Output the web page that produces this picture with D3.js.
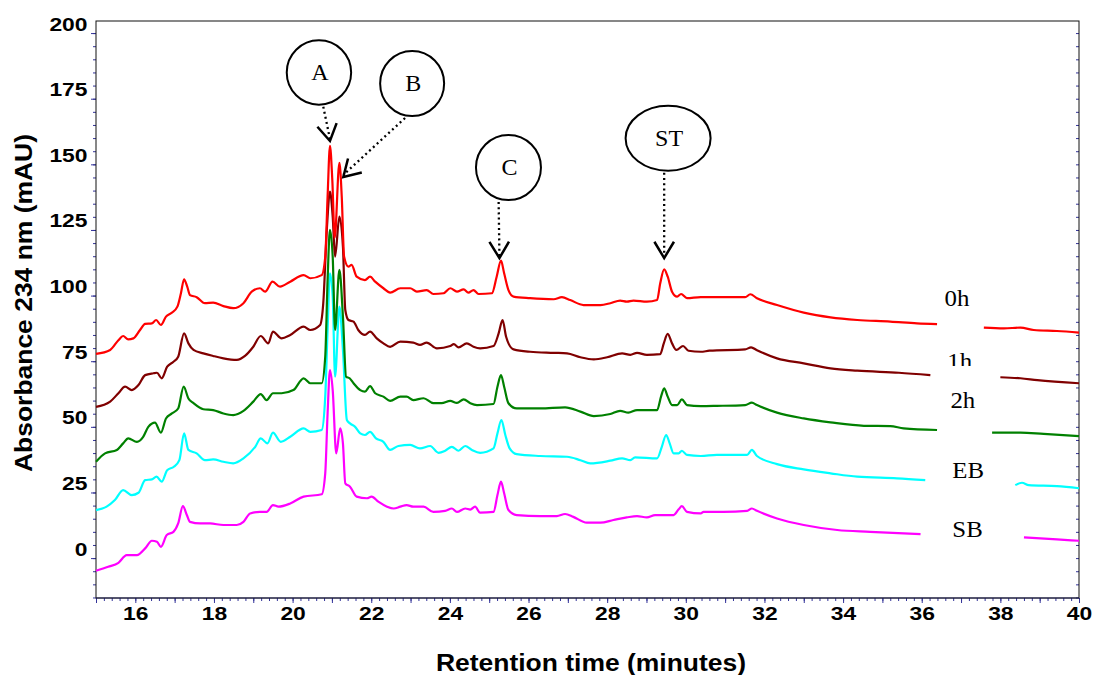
<!DOCTYPE html>
<html>
<head>
<meta charset="utf-8">
<script src="https://cdn.jsdelivr.net/npm/d3@7"></script>
<style>
body { margin: 0; background: #fff; }
svg { display: block; }
</style>
</head>
<body>
<svg id="chart" width="1093" height="675"></svg>
<script>
// Chromatogram traces, [retention time (min), absorbance (mAU)], null = break in the trace
const trace0h = [[15.0,77.8],[15.36,79.3],[15.57,83.0],[15.69,84.6],[15.82,83.3],[15.95,83.7],[16.12,86.9],[16.25,89.2],[16.42,89.4],[16.53,90.7],[16.65,88.8],[16.78,92.0],[16.93,93.5],[17.07,95.8],[17.16,100.9],[17.24,106.2],[17.32,103.4],[17.39,100.2],[17.56,99.4],[17.77,97.1],[17.98,97.3],[18.24,96.0],[18.49,95.2],[18.75,97.1],[18.96,101.5],[19.17,102.8],[19.30,101.5],[19.49,105.3],[19.68,103.4],[19.94,105.3],[20.28,107.8],[20.45,106.6],[20.74,107.8],[20.83,114.8],[20.89,137.7],[20.95,157.0],[21.01,144.0],[21.07,122.0],[21.19,150.6],[21.25,137.7],[21.31,114.8],[21.42,111.0],[21.50,111.7],[21.63,107.2],[21.84,105.9],[21.97,107.2],[22.10,105.3],[22.31,102.8],[22.48,101.1],[22.74,102.8],[22.99,102.8],[23.16,101.5],[23.41,102.1],[23.58,100.6],[23.84,100.9],[24.01,102.8],[24.18,101.5],[24.35,102.4],[24.47,101.1],[24.60,102.1],[24.73,100.6],[25.07,100.9],[25.19,107.2],[25.30,113.3],[25.38,108.5],[25.49,102.1],[25.62,99.6],[26.04,99.0],[26.64,98.6],[26.85,99.4],[27.06,98.3],[27.40,96.4],[27.83,96.4],[28.08,97.1],[28.33,98.1],[28.50,97.7],[28.67,98.1],[29.01,97.7],[29.27,98.3],[29.35,104.7],[29.45,110.0],[29.54,107.2],[29.65,101.5],[29.78,99.6],[29.88,100.6],[30.03,99.0],[30.38,99.4],[30.79,99.4],[31.51,99.4],[31.64,100.5],[31.81,99.0],[32.32,96.4],[33.0,93.5],[33.68,91.7],[34.36,90.7],[35.20,90.1],[35.88,89.4],[36.39,89.1],[36.4,null],[37.58,87.8],[38.09,87.5],[38.51,87.8],[38.85,86.9],[39.44,86.5],[40.0,85.9]]

const trace1h = [[15.0,57.6],[15.36,59.6],[15.57,62.8],[15.74,65.3],[15.91,64.0],[16.08,65.9],[16.25,69.7],[16.46,70.4],[16.55,70.6],[16.67,68.5],[16.81,72.9],[16.97,74.8],[17.09,76.7],[17.24,85.6],[17.35,81.8],[17.48,79.3],[17.73,78.0],[17.98,77.0],[18.24,76.1],[18.58,75.5],[18.79,77.0],[19.0,80.5],[19.19,84.6],[19.38,81.8],[19.50,86.3],[19.72,83.7],[19.94,85.0],[20.28,88.2],[20.45,86.9],[20.70,88.8],[20.78,97.1],[20.87,125.0],[20.95,139.6],[21.02,130.1],[21.08,114.8],[21.19,130.1],[21.28,118.6],[21.34,94.5],[21.42,90.7],[21.55,90.1],[21.67,86.9],[21.84,85.0],[21.97,86.3],[22.14,83.7],[22.31,81.8],[22.48,80.5],[22.74,82.5],[23.07,82.1],[23.24,81.2],[23.41,82.1],[23.67,79.9],[24.01,80.8],[24.10,81.5],[24.22,80.3],[24.43,81.8],[24.60,80.5],[24.77,79.9],[25.11,80.8],[25.24,85.6],[25.34,90.7],[25.43,84.3],[25.62,79.5],[26.04,78.6],[26.64,78.2],[26.98,78.0],[27.32,76.5],[27.66,75.7],[28.0,76.5],[28.38,78.0],[28.59,77.4],[28.76,78.2],[29.01,77.4],[29.35,77.7],[29.44,81.8],[29.54,85.4],[29.65,81.8],[29.76,79.3],[29.93,80.8],[30.07,79.0],[30.38,78.6],[30.6,79.0],[31.51,79.5],[31.66,80.3],[31.81,79.2],[32.32,76.1],[33.0,74.2],[33.68,72.3],[34.36,71.4],[35.42,70.6],[36.22,69.7],[36.25,null],[38.0,68.9],[38.51,68.5],[38.94,67.8],[40.0,66.6]]

const trace2h = [[15.0,36.7],[15.23,39.9],[15.53,41.2],[15.69,43.7],[15.82,45.6],[16.04,44.3],[16.20,46.2],[16.33,50.0],[16.50,51.6],[16.65,47.8],[16.78,53.2],[16.93,55.1],[17.09,57.0],[17.23,65.3],[17.35,60.8],[17.48,59.0],[17.73,56.7],[17.98,56.4],[18.24,55.1],[18.49,54.5],[18.75,56.1],[19.0,59.6],[19.19,62.5],[19.34,60.2],[19.50,62.8],[19.72,62.8],[20.02,64.0],[20.28,68.5],[20.45,66.6],[20.74,66.6],[20.83,76.7],[20.89,105.9],[20.95,125.0],[21.02,114.8],[21.08,86.9],[21.19,109.8],[21.28,92.0],[21.36,69.1],[21.45,68.5],[21.55,66.6],[21.72,64.0],[21.84,63.4],[21.97,65.5],[22.10,62.8],[22.31,61.5],[22.48,59.9],[22.74,61.5],[22.90,61.5],[23.07,60.2],[23.33,60.9],[23.58,59.0],[23.79,59.0],[24.01,59.9],[24.18,59.1],[24.35,60.5],[24.52,59.0],[24.69,58.3],[25.11,58.7],[25.21,65.3],[25.30,69.7],[25.38,65.3],[25.49,59.0],[25.70,57.0],[26.30,57.0],[26.93,57.4],[27.32,55.8],[27.66,54.1],[28.08,54.9],[28.33,56.1],[28.54,55.4],[28.76,56.4],[29.27,56.4],[29.37,61.5],[29.45,64.7],[29.54,61.5],[29.65,58.3],[29.78,58.3],[29.90,60.5],[30.03,58.3],[30.38,57.9],[30.79,58.0],[31.51,58.3],[31.68,59.2],[31.81,58.3],[32.32,55.4],[33.0,53.2],[33.68,51.7],[34.53,50.4],[35.20,50.3],[35.54,49.4],[36.39,48.8],[36.4,null],[37.79,47.8],[38.51,47.8],[39.10,47.3],[40.0,46.5]]

const traceEB = [[15.0,18.3],[15.27,19.6],[15.48,22.1],[15.69,25.9],[15.91,24.0],[16.08,24.9],[16.25,29.7],[16.42,30.0],[16.54,31.0],[16.67,29.1],[16.81,33.5],[16.98,34.8],[17.12,37.3],[17.24,47.5],[17.35,41.2],[17.56,39.9],[17.77,37.3],[17.98,37.6],[18.24,36.7],[18.49,36.1],[18.75,38.0],[19.05,42.4],[19.19,45.6],[19.36,43.7],[19.50,47.8],[19.70,44.3],[19.94,46.2],[20.28,49.4],[20.45,48.1],[20.74,48.8],[20.83,61.5],[20.89,86.9],[20.95,108.5],[21.02,99.6],[21.08,69.1],[21.19,95.8],[21.28,79.3],[21.38,52.6],[21.46,51.3],[21.59,50.0],[21.72,47.5],[21.84,46.9],[21.97,48.1],[22.12,45.6],[22.31,44.3],[22.48,41.2],[22.69,42.7],[22.99,43.1],[23.24,41.8],[23.50,42.7],[23.71,40.1],[23.88,40.9],[24.05,42.4],[24.22,40.9],[24.39,42.7],[24.56,41.2],[24.77,40.1],[25.11,41.8],[25.21,47.5],[25.31,52.6],[25.41,46.9],[25.52,41.8],[25.70,39.6],[26.30,38.9],[26.98,38.6],[27.32,37.3],[27.57,36.1],[28.08,37.1],[28.38,38.0],[28.59,37.3],[28.71,38.4],[29.27,38.0],[29.39,42.4],[29.50,46.9],[29.59,43.7],[29.69,39.9],[29.82,39.9],[29.90,40.9],[30.03,39.3],[30.38,38.9],[30.79,39.3],[31.56,39.3],[31.68,41.2],[31.81,38.9],[32.32,35.8],[33.0,33.8],[33.68,32.3],[34.36,31.0],[35.37,30.4],[36.09,29.7],[36.1,null],[38.38,27.8],[38.55,28.7],[38.72,27.8],[39.44,27.4],[40.0,26.6]]

const traceSB = [[15.0,-4.8],[15.31,-3.3],[15.57,-1.8],[15.78,1.1],[16.04,1.1],[16.25,3.7],[16.42,6.6],[16.55,6.2],[16.65,4.3],[16.80,8.8],[16.97,10.0],[17.09,13.2],[17.21,19.8],[17.31,16.4],[17.39,13.8],[17.65,13.2],[17.90,13.2],[18.24,12.6],[18.58,12.6],[18.75,13.8],[18.92,17.0],[19.17,17.6],[19.34,17.6],[19.50,20.2],[19.64,19.6],[19.94,20.8],[20.28,23.4],[20.74,24.3],[20.83,32.3],[20.89,55.1],[20.95,71.6],[21.02,64.0],[21.11,39.9],[21.21,49.4],[21.28,43.7],[21.34,28.5],[21.46,27.2],[21.63,23.4],[21.89,22.8],[22.01,23.4],[22.18,21.5],[22.40,19.6],[22.57,18.9],[22.74,19.6],[22.90,20.2],[23.07,19.6],[23.33,19.6],[23.58,17.6],[23.88,18.0],[24.05,18.9],[24.18,17.6],[24.39,18.9],[24.52,18.5],[24.64,19.6],[24.77,17.3],[25.11,17.6],[25.21,24.0],[25.30,29.1],[25.38,24.7],[25.49,18.3],[25.70,16.4],[26.30,16.0],[26.72,16.0],[26.93,16.8],[27.14,15.7],[27.48,13.5],[27.83,13.5],[28.16,14.5],[28.50,15.5],[28.76,16.0],[29.01,15.5],[29.22,16.4],[29.69,16.4],[29.82,18.6],[29.90,19.8],[30.03,17.6],[30.38,17.0],[30.45,17.6],[30.96,17.6],[31.56,18.0],[31.68,18.9],[31.81,18.0],[32.32,15.1],[33.0,12.6],[33.85,10.7],[34.69,10.0],[35.97,9.1],[36.0,null],[38.6,7.9],[39.44,7.1],[40.0,6.6]]

const seriesNames = ["0h", "1h", "2h", "EB", "SB"]
const seriesData = [trace0h, trace1h, trace2h, traceEB, traceSB]
const seriesColors = ["#ff0000", "#800000", "#008000", "#00ffff", "#ff00ff"]

const yTicks = [0, 25, 50, 75, 100, 125, 150, 175, 200]
const xTicks = [16, 18, 20, 22, 24, 26, 28, 30, 32, 34, 36, 38, 40]

// peak call-outs
const peakLabels = ["A", "B", "C", "ST"]

const margin = {top: 21, right: 14, bottom: 77, left: 96}
const width = 1093 - margin.left - margin.right
const height = 675 - margin.top - margin.bottom

const svg = d3.select("#chart")
const g = svg.append("g").attr("transform", "translate(" + margin.left + "," + margin.top + ")")

const x = d3.scaleLinear().domain([15, 40]).range([0, width])
const y = d3.scaleLinear().domain([-15.2, 204.6]).range([height, 0])

const tickColor = "#333399"
const sans = "'Liberation Sans', Arial, sans-serif"
const serif = "'Liberation Serif', 'Times New Roman', serif"

// stretch text horizontally, the original picture is a bit wider than tall
function stretch(sel, k) {
    sel.each(function() {
        const w = this.getComputedTextLength()
        if (w > 0) d3.select(this).attr("textLength", w * k).attr("lengthAdjust", "spacingAndGlyphs")
    })
}

// ---- axes ----
const yMinor = g.append("g").call(d3.axisLeft(y).tickValues(d3.range(-15, 201, 5)).tickSize(3).tickFormat(""))
const yMajor = g.append("g").call(d3.axisLeft(y).tickValues(yTicks).tickSize(5))
const yRight = g.append("g").attr("transform", "translate(" + width + ",0)")
    .call(d3.axisLeft(y).tickValues(d3.range(-15, 201, 5)).tickSize(3).tickFormat(""))

const xMinor = g.append("g").attr("transform", "translate(0," + height + ")")
    .call(d3.axisBottom(x).tickValues(d3.range(0, 126).map(i => 15 + i / 5)).tickSize(3).tickFormat(""))
const xMajor = g.append("g").attr("transform", "translate(0," + height + ")")
    .call(d3.axisBottom(x).tickValues(d3.range(15, 41)).tickSize(5)
        .tickFormat(d => xTicks.includes(d) ? d : ""))

g.selectAll(".domain").remove()
g.selectAll(".tick line").attr("stroke", tickColor).attr("stroke-width", 1)

// tick labels are wide in the original, scale them sideways
yMajor.selectAll("text")
    .attr("x", 0).attr("dy", -3)
    .attr("transform", "translate(-8.5,0) scale(1.27,1)")
    .style("font-family", sans).style("font-size", "18px").style("font-weight", "bold").attr("fill", "#000")
xMajor.selectAll("text")
    .attr("x", 0).attr("y", 22).attr("dy", 0)
    .attr("transform", "scale(1.27,1)")
    .style("font-family", sans).style("font-size", "18px").style("font-weight", "bold").attr("fill", "#000")

// frame
g.append("rect")
    .attr("x", 0).attr("y", 0).attr("width", width).attr("height", height)
    .attr("fill", "none").attr("stroke", "#111").attr("stroke-width", 1)
g.append("line").attr("x1", 0).attr("x2", width).attr("y1", height).attr("y2", height)
    .attr("stroke", "#222255").attr("stroke-width", 1.2)

// axis titles
const xTitle = svg.append("text")
    .attr("x", margin.left + 495).attr("y", 671)
    .attr("text-anchor", "middle")
    .style("font-family", sans).style("font-size", "23px").style("font-weight", "bold")
    .text("Retention time (minutes)")
stretch(xTitle, 1.15)

const yTitle = svg.append("text")
    .attr("transform", "translate(32,303) rotate(-90)")
    .attr("text-anchor", "middle")
    .style("font-family", sans).style("font-size", "23px").style("font-weight", "bold")
    .text("Absorbance 234 nm (mAU)")
stretch(yTitle, 1.15)

// ---- traces ----
const line = d3.line()
    .defined(d => d[1] != null)
    .x(d => x(d[0]))
    .y(d => y(d[1]))
    .curve(d3.curveMonotoneX)

const order = [4, 3, 2, 1, 0]
g.selectAll(".trace")
    .data(order)
    .enter()
    .append("path")
    .attr("class", "trace")
    .attr("d", i => line(seriesData[i]))
    .attr("fill", "none")
    .attr("stroke", i => seriesColors[i])
    .attr("stroke-width", 2.2)
    .attr("stroke-linejoin", "round")

// ---- trace labels ----
const labelT = [36.58, 36.65, 36.73, 36.78, 36.78]
const labelV = [96.2, 72.0, 57.0, 30.5, 7.9]

svg.append("clipPath").attr("id", "cut1h")
    .append("rect").attr("x", 0).attr("y", 0).attr("width", width).attr("height", y(73.2))

const labels = g.selectAll(".slabel")
    .data(seriesNames)
    .enter()
    .append("text")
    .attr("class", "slabel")
    .attr("x", (d, i) => x(labelT[i]))
    .attr("y", (d, i) => y(labelV[i]))
    .attr("clip-path", d => d == "1h" ? "url(#cut1h)" : null)
    .style("font-family", serif).style("font-size", "23px")
    .text(d => d)
stretch(labels, 1.08)

// ---- peak call-outs ----
const callCenterT = [20.67, 23.04, 25.49, 29.55]
const callCenterV = [185.0, 180.8, 148.8, 159.9]
const callRx = [32.2, 32, 32.5, 42.5]
const callRy = [32.2, 32.5, 32.5, 32.5]
const callStartT = [20.78, 22.86, 25.24, 29.45]
const callTipT = [20.95, 21.29, 25.26, 29.45]
const callTipV = [158.9, 145.2, 114.3, 114.3]

const calls = g.selectAll(".call")
    .data(peakLabels)
    .enter()
    .append("g")
    .attr("class", "call")

calls.append("ellipse")
    .attr("cx", (d, i) => x(callCenterT[i]))
    .attr("cy", (d, i) => y(callCenterV[i]))
    .attr("rx", (d, i) => callRx[i])
    .attr("ry", (d, i) => callRy[i])
    .attr("fill", "#fff")
    .attr("stroke", "#000")
    .attr("stroke-width", 2)

calls.append("text")
    .attr("x", (d, i) => x(callCenterT[i]) + 1)
    .attr("y", (d, i) => y(callCenterV[i]) + 8)
    .attr("text-anchor", "middle")
    .style("font-family", serif).style("font-size", "24px")
    .text(d => d)

calls.append("line")
    .attr("x1", (d, i) => x(callStartT[i]))
    .attr("y1", (d, i) => y(callCenterV[i]) + callRy[i] + 2)
    .attr("x2", (d, i) => x(callTipT[i]))
    .attr("y2", (d, i) => y(callTipV[i]) - 2)
    .attr("stroke", "#000")
    .attr("stroke-width", 2.3)
    .attr("stroke-dasharray", "2,3.2")

calls.append("path")
    .attr("d", function(d, i) {
        const tx = x(callTipT[i]), ty = y(callTipV[i])
        const sx = x(callStartT[i]), sy = y(callCenterV[i]) + callRy[i]
        const a = Math.atan2(sy - ty, sx - tx)
        const spread = 31 * Math.PI / 180, len = 19
        return "M" + (tx + len * Math.cos(a - spread)) + "," + (ty + len * Math.sin(a - spread)) +
            "L" + tx + "," + ty +
            "L" + (tx + len * Math.cos(a + spread)) + "," + (ty + len * Math.sin(a + spread))
    })
    .attr("fill", "none")
    .attr("stroke", "#000")
    .attr("stroke-width", 2.5)
</script>
</body>
</html>
